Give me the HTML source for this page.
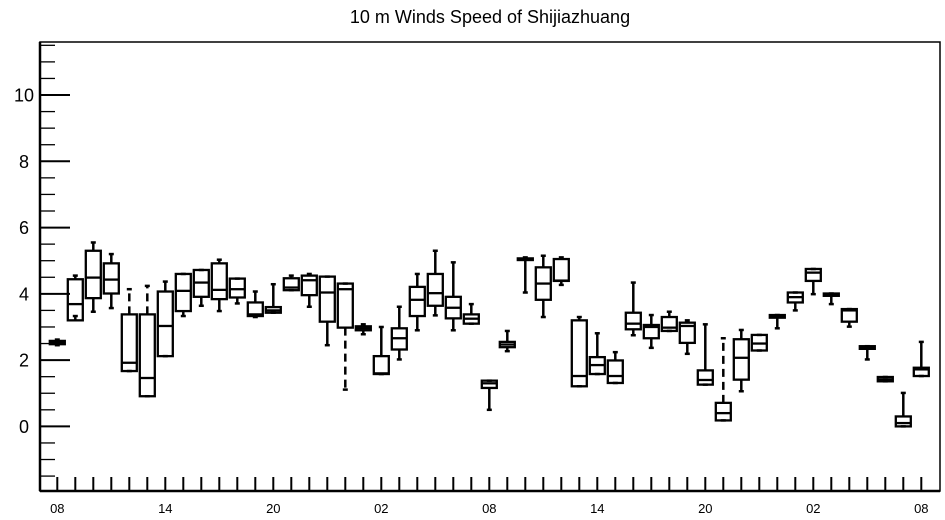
<!DOCTYPE html>
<html><head><meta charset="utf-8">
<style>
html,body{margin:0;padding:0;background:#fff;}
svg{display:block;font-family:"Liberation Sans",sans-serif;}
</style></head>
<body>
<svg id="chart" width="945" height="520" viewBox="0 0 945 520">
<text x="490" y="23" text-anchor="middle" font-size="18">10 m Winds Speed of Shijiazhuang</text>
<g id="axes"></g>
<g id="boxes"></g>
</svg>
<script>
const hourLabels = ["08","14","20","02","08","14","20","02","08"];
const yTickLabels = [0,2,4,6,8,10];
const mins = [2.45,3.33,3.46,3.57,1.67,0.91,2.12,3.33,3.64,3.48,3.71,3.3,3.43,4.11,3.61,2.45,1.11,2.78,1.58,2.02,2.9,3.35,2.9,3.1,0.5,2.27,4.04,3.3,4.27,1.21,1.58,1.31,2.75,2.37,2.88,2.19,1.26,0.18,1.06,2.29,2.96,3.5,3.99,3.69,3.01,2.02,1.36,0.0,1.52];
const q1s = [2.48,3.2,3.87,4.01,1.67,0.91,2.12,3.48,3.91,3.84,3.89,3.33,3.43,4.11,3.96,3.16,2.98,2.9,1.58,2.32,3.33,3.64,3.26,3.1,1.16,2.39,5.02,3.82,4.39,1.21,1.58,1.31,2.93,2.66,2.88,2.52,1.26,0.18,1.41,2.29,3.28,3.74,4.39,3.94,3.16,2.34,1.36,0.0,1.52];
const medians = [2.52,3.69,4.49,4.43,1.92,1.46,3.03,4.09,4.34,4.12,4.14,3.38,3.5,4.19,4.41,4.04,4.14,2.96,1.6,2.66,3.82,4.02,3.58,3.25,1.3,2.47,5.05,4.31,4.4,1.52,1.85,1.52,3.1,3.0,2.98,3.03,1.4,0.4,2.07,2.5,3.32,3.9,4.64,3.98,3.5,2.38,1.42,0.1,1.72];
const q3s = [2.58,4.44,5.3,4.92,3.38,3.38,4.07,4.6,4.72,4.92,4.46,3.74,3.6,4.47,4.55,4.52,4.31,3.02,2.12,2.96,4.21,4.6,3.91,3.38,1.38,2.55,5.07,4.8,5.05,3.2,2.09,1.99,3.43,3.06,3.3,3.13,1.69,0.71,2.63,2.76,3.36,4.04,4.75,4.01,3.54,2.42,1.49,0.3,1.77];
const maxs = [2.62,4.55,5.55,5.2,4.14,4.24,4.37,4.6,4.72,5.03,4.46,4.07,4.29,4.55,4.6,4.52,4.31,3.08,3.0,3.61,4.6,5.3,4.95,3.69,1.38,2.88,5.1,5.15,5.1,3.3,2.81,2.24,4.34,3.36,3.46,3.2,3.08,2.66,2.91,2.76,3.36,4.04,4.75,4.01,3.54,2.42,1.49,1.01,2.55];
const dashed = [0,0,0,0,1,1,0,0,0,0,0,0,0,0,0,0,1,0,0,0,0,0,0,0,0,0,0,0,0,1,0,0,0,0,0,0,0,1,0,0,0,0,0,0,0,0,0,0,0];

const NS="http://www.w3.org/2000/svg";
const L=40,R=940,T=42,B=491;
const yMin=-1.95,yMax=11.6;
function yS(v){return B-(v-yMin)/(yMax-yMin)*(B-T);}
function xS(i){return 57.3+i*18;}
function el(tag,attrs,parent){const e=document.createElementNS(NS,tag);for(const k in attrs)e.setAttribute(k,attrs[k]);parent.appendChild(e);return e;}
const axes=document.getElementById('axes');
const boxes=document.getElementById('boxes');

const frame=el('rect',{x:L,y:T,width:R-L,height:B-T,fill:'none',stroke:'#000','stroke-width':1.5},axes);


const yl=el('line',{x1:L,y1:T,x2:L,y2:B,stroke:'#000','stroke-width':2.5},axes);


const xl=el('line',{x1:L,y1:B,x2:R,y2:B,stroke:'#000','stroke-width':2.5},axes);



for(let v=-1.5;v<=11.5;v+=0.5){
  const major=Math.abs(v-Math.round(v/2)*2)<1e-6;
  const y=yS(v);
  const t=el('line',{x1:L,y1:y,x2:L+(major?30:15),y2:y,stroke:'#000','stroke-width':major?2:1.3},axes);
  
  
}
yTickLabels.forEach(v=>{
  const t=el('text',{x:24,y:yS(v)+6.5,'text-anchor':'middle','font-size':18},axes);
  t.textContent=String(v);
  
  
});
for(let i=0;i<mins.length;i++){
  const t=el('line',{x1:xS(i),y1:B,x2:xS(i),y2:B-14,stroke:'#000','stroke-width':2},axes);
  
  
}
hourLabels.forEach((s,k)=>{
  const t=el('text',{x:xS(k*6),y:513,'text-anchor':'middle','font-size':13},axes);
  t.textContent=s;
  
  
});

for(let i=0;i<mins.length;i++){
  const g=el('g',{},boxes);
  
  
  const x=xS(i),hw=7.5;
  const da=dashed[i]?'8,5':'none';
  el('line',{x1:x,y1:yS(q3s[i]),x2:x,y2:yS(maxs[i]),stroke:'#000','stroke-width':2.5,'stroke-dasharray':da},g);
  el('line',{x1:x,y1:yS(q1s[i]),x2:x,y2:yS(mins[i]),stroke:'#000','stroke-width':2.5,'stroke-dasharray':da},g);
  el('line',{x1:x-2.5,y1:yS(maxs[i]),x2:x+2.5,y2:yS(maxs[i]),stroke:'#000','stroke-width':2.5},g);
  el('line',{x1:x-2.5,y1:yS(mins[i]),x2:x+2.5,y2:yS(mins[i]),stroke:'#000','stroke-width':2.5},g);
  const top=yS(q3s[i]),bot=yS(q1s[i]);
  el('rect',{x:x-hw,y:top,width:hw*2,height:Math.max(bot-top,1.5),fill:'none',stroke:'#000','stroke-width':2.3},g);
  el('line',{x1:x-hw,y1:yS(medians[i]),x2:x+hw,y2:yS(medians[i]),stroke:'#000','stroke-width':2.3},g);
}
</script>
</body></html>
